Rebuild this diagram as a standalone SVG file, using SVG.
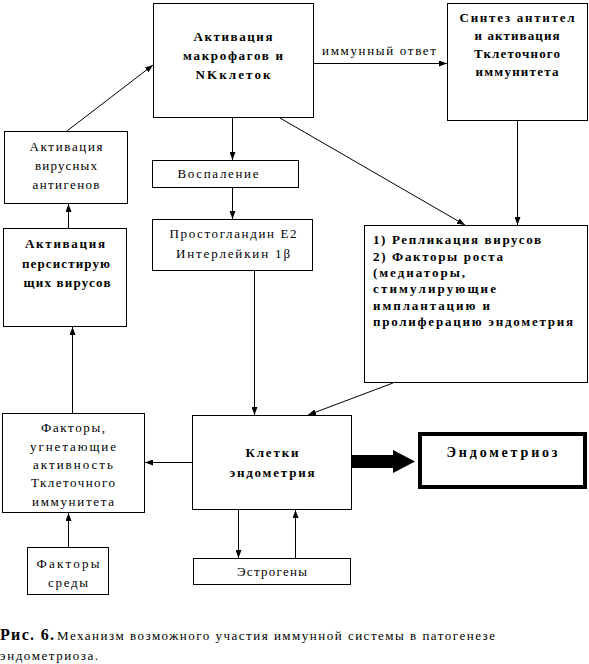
<svg xmlns="http://www.w3.org/2000/svg" width="589" height="664" viewBox="0 0 589 664" font-family="'Liberation Serif', 'DejaVu Serif', serif">
<style>
.n{fill:#fff;stroke:#000;stroke-width:1}
.t{font-size:13px;fill:#000}
.b{font-weight:bold}
.c{text-anchor:middle}
.e{stroke:#000;stroke-width:1;fill:none;marker-end:url(#ah)}
</style>
<defs>
<marker id="ah" viewBox="0 0 8 6" refX="8" refY="3" markerWidth="8" markerHeight="6" markerUnits="userSpaceOnUse" orient="auto"><path d="M0,0 L8,3 L0,6 z" fill="#000"/></marker>
</defs>
<rect width="589" height="664" fill="#fff"/>
<g id="connectors">
<line class="e" x1="67" y1="131" x2="153" y2="65"/>
<line class="e" x1="314" y1="63.5" x2="447" y2="63.5"/>
<text class="t" x="379" y="55" text-anchor="middle" textLength="114" lengthAdjust="spacing">иммунный ответ</text>
<line class="e" x1="232.5" y1="118" x2="232.5" y2="160"/>
<line class="e" x1="232.5" y1="188" x2="232.5" y2="219"/>
<line class="e" x1="254.5" y1="271" x2="254.5" y2="415"/>
<line class="e" x1="517.5" y1="121" x2="517.5" y2="225"/>
<line class="e" x1="280" y1="118" x2="465" y2="225"/>
<line class="e" x1="393" y1="383" x2="308" y2="415"/>
<line class="e" x1="68.5" y1="228" x2="68.5" y2="204"/>
<line class="e" x1="72.5" y1="413" x2="72.5" y2="327"/>
<line class="e" x1="192" y1="462.5" x2="145" y2="462.5"/>
<line class="e" x1="68.5" y1="547" x2="68.5" y2="513"/>
<line class="e" x1="238.5" y1="510" x2="238.5" y2="558"/>
<line class="e" x1="295.5" y1="558" x2="295.5" y2="510"/>
<polygon points="352,455 393,455 393,450 415,461.5 393,473 393,468 352,468" fill="#000"/>
</g>
<g id="macro">
<rect class="n" x="153.5" y="3.5" width="160" height="114"/>
<text class="t b c" x="233" y="41" textLength="79" lengthAdjust="spacing">Активация</text>
<text class="t b c" x="233" y="60" textLength="100" lengthAdjust="spacing">макрофагов и</text>
<text class="t b c" x="233" y="79" textLength="75" lengthAdjust="spacing">NKклеток</text>
</g>
<g id="synth">
<rect class="n" x="447.5" y="3.5" width="140" height="117"/>
<text class="t b c" x="517" y="22" textLength="115" lengthAdjust="spacing">Синтез антител</text>
<text class="t b c" x="517" y="40" textLength="85" lengthAdjust="spacing">и активация</text>
<text class="t b c" x="517" y="58" textLength="86" lengthAdjust="spacing">Тклеточного</text>
<text class="t b c" x="517" y="76" textLength="83" lengthAdjust="spacing">иммунитета</text>
</g>
<g id="antigens">
<rect class="n" x="4.5" y="131.5" width="123" height="72"/>
<text class="t c" x="66" y="151" textLength="73" lengthAdjust="spacing">Активация</text>
<text class="t c" x="66" y="170" textLength="62" lengthAdjust="spacing">вирусных</text>
<text class="t c" x="66" y="189" textLength="67" lengthAdjust="spacing">антигенов</text>
</g>
<g id="inflammation">
<rect class="n" x="152.5" y="160.5" width="146" height="27"/>
<text class="t c" x="218" y="178" textLength="81" lengthAdjust="spacing">Воспаление</text>
</g>
<g id="prostaglandin">
<rect class="n" x="152.5" y="219.5" width="160" height="51"/>
<text class="t c" x="233" y="238" textLength="127" lengthAdjust="spacing">Простогландин E2</text>
<text class="t c" x="233" y="258" textLength="114" lengthAdjust="spacing">Интерлейкин 1β</text>
</g>
<g id="persistent">
<rect class="n" x="3.5" y="228.5" width="123" height="98"/>
<text class="t b c" x="65" y="248" textLength="80" lengthAdjust="spacing">Активация</text>
<text class="t b c" x="66" y="268" textLength="88" lengthAdjust="spacing">персистирую</text>
<text class="t b c" x="67" y="287" textLength="87" lengthAdjust="spacing">щих вирусов</text>
</g>
<g id="replication">
<rect class="n" x="364.5" y="225.5" width="223" height="157"/>
<text class="t b" x="373" y="244" textLength="168" lengthAdjust="spacing">1) Репликация вирусов</text>
<text class="t b" x="373" y="261" textLength="130" lengthAdjust="spacing">2) Факторы роста</text>
<text class="t b" x="373" y="277" textLength="92" lengthAdjust="spacing">(медиаторы,</text>
<text class="t b" x="373" y="293" textLength="123" lengthAdjust="spacing">стимулирующие</text>
<text class="t b" x="373" y="310" textLength="117" lengthAdjust="spacing">имплантацию и</text>
<text class="t b" x="373" y="326" textLength="200" lengthAdjust="spacing">пролиферацию эндометрия</text>
</g>
<g id="cells">
<rect class="n" x="192.5" y="415.5" width="159" height="94"/>
<text class="t b c" x="272" y="457" textLength="53" lengthAdjust="spacing">Клетки</text>
<text class="t b c" x="272" y="477" textLength="85" lengthAdjust="spacing">эндометрия</text>
</g>
<g id="endometriosis">
<rect x="420" y="434" width="165" height="53" fill="#fff" stroke="#000" stroke-width="4"/>
<text class="t b c" x="502" y="457" style="font-size:14px" textLength="111" lengthAdjust="spacing">Эндометриоз</text>
</g>
<g id="suppressors">
<rect class="n" x="2.5" y="413.5" width="142" height="99"/>
<text class="t c" x="73" y="432" textLength="64" lengthAdjust="spacing">Факторы,</text>
<text class="t c" x="73" y="451" textLength="86" lengthAdjust="spacing">угнетающие</text>
<text class="t c" x="73" y="469" textLength="80" lengthAdjust="spacing">активность</text>
<text class="t c" x="73" y="487" textLength="84" lengthAdjust="spacing">Тклеточного</text>
<text class="t c" x="73" y="506" textLength="82" lengthAdjust="spacing">иммунитета</text>
</g>
<g id="environment">
<rect class="n" x="27.5" y="547.5" width="81" height="47"/>
<text class="t c" x="68" y="568" textLength="63" lengthAdjust="spacing">Факторы</text>
<text class="t c" x="68" y="587" textLength="40" lengthAdjust="spacing">среды</text>
</g>
<g id="estrogens">
<rect class="n" x="193.5" y="558.5" width="157" height="26"/>
<text class="t c" x="272" y="576" textLength="70" lengthAdjust="spacing">Эстрогены</text>
</g>
<g id="caption">
<text class="t b" x="0" y="640" style="font-size:16px" textLength="54" lengthAdjust="spacing">Рис. 6.</text>
<text class="t" x="57" y="640" textLength="438" lengthAdjust="spacing">Механизм возможного участия иммунной системы в патогенезе</text>
<text class="t" x="0" y="660" textLength="98" lengthAdjust="spacing">эндометриоза.</text>
</g>
</svg>
